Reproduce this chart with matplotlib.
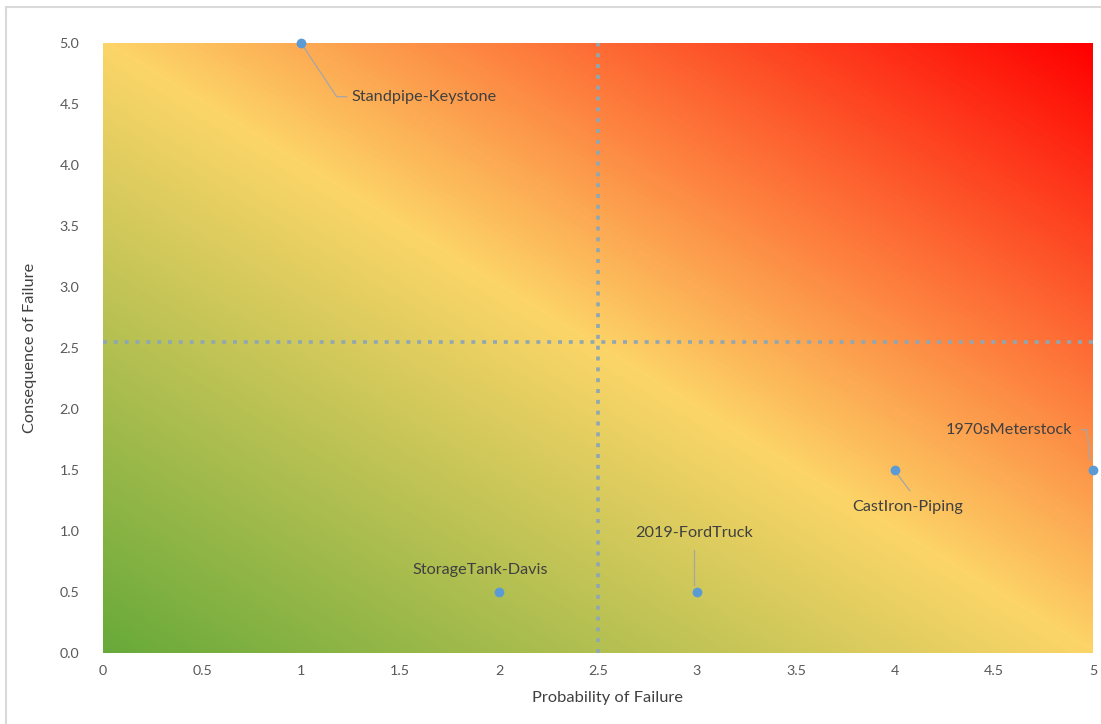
import numpy as np
import matplotlib.pyplot as plt
from matplotlib.colors import LinearSegmentedColormap
from matplotlib.lines import Line2D

plt.rcParams['font.family'] = ['Lato', 'DejaVu Sans']

# asset risk scores
assets = ["Standpipe-Keystone", "StorageTank-Davis", "2019-FordTruck",
          "CastIron-Piping", "1970sMeterstock"]
probability = [1, 2, 3, 4, 5]
consequence = [5.0, 0.5, 0.5, 1.5, 1.5]

# label anchor spots and leader paths (data units)
label_xy = [(1.255, 4.56), (1.905, 0.68), (2.985, 0.98), (4.066, 1.20), (4.575, 1.83)]
label_ha = ["left", "center", "center", "center", "center"]
leaders = [
    [(1.0, 5.0), (1.18, 4.56), (1.23, 4.56)],
    None,
    [(2.985, 0.845), (2.985, 0.56)],
    [(4.01, 1.47), (4.075, 1.33)],
    [(4.94, 1.83), (4.97, 1.83), (4.985, 1.58)],
]

x_ticks = [0, 0.5, 1, 1.5, 2, 2.5, 3, 3.5, 4, 4.5, 5]
x_tick_labels = ["0", "0.5", "1", "1.5", "2", "2.5", "3", "3.5", "4", "4.5", "5"]
y_ticks = [0.0, 0.5, 1.0, 1.5, 2.0, 2.5, 3.0, 3.5, 4.0, 4.5, 5.0]

prob_split = 2.5
cons_split = 2.55

fig = plt.figure(figsize=(11.01, 7.24), dpi=100)
ax = fig.add_axes([0.0936, 0.0981, 0.8991, 0.8425])

# diagonal heat background: green -> yellow -> red
cmap = LinearSegmentedColormap.from_list(
    "risk", [(0.0, "#68aa3a"), (0.5, "#fcd568"), (1.0, "#ff0000")])
n = 400
gx, gy = np.meshgrid(np.linspace(0, 1, n), np.linspace(0, 1, n))
ax.imshow((gx + gy) / 2, cmap=cmap, extent=[0, 5, 0, 5], origin="lower",
          aspect="auto", zorder=0, interpolation="bilinear")

ax.axvline(prob_split, color="#8fa7b3", lw=2.6, ls=(0, (1.1, 1.9)), zorder=1)
ax.axhline(cons_split, color="#8fa7b3", lw=2.6, ls=(0, (1.1, 1.9)), zorder=1)

for pts in leaders:
    if pts is None:
        continue
    xs, ys = zip(*pts)
    ax.plot(xs, ys, color="#a6a6a6", lw=0.9, zorder=2, clip_on=False)

ax.plot(probability, consequence, "o", color="#5b9bd5", markersize=6,
        zorder=3, clip_on=False)

for name, (lx, ly), ha in zip(assets, label_xy, label_ha):
    ax.text(lx, ly, name, ha=ha, va="center", fontsize=11.7, color="#404040",
            zorder=4)

ax.set_xlim(0, 5)
ax.set_ylim(0, 5)
ax.set_xticks(x_ticks)
ax.set_xticklabels(x_tick_labels)
ax.set_yticks(y_ticks)
ax.set_yticklabels([f"{v:.1f}" for v in y_ticks])
ax.tick_params(length=0, labelsize=10.3, labelcolor="#595959")
ax.tick_params(axis="y", pad=17)
ax.tick_params(axis="x", pad=9)
for s in ax.spines.values():
    s.set_visible(False)

ax.set_xlabel("Probability of Failure", fontsize=11.8, color="#404040", labelpad=8)
ax.xaxis.set_label_coords(0.51, -0.062)
ax.set_ylabel("Consequence of Failure", fontsize=11.8, color="#404040", labelpad=16)

# chart frame
fig.add_artist(Line2D([6 / 1101, 1.0], [1 - 7 / 724, 1 - 7 / 724],
                      color="#d9d9d9", lw=1.5, transform=fig.transFigure))
fig.add_artist(Line2D([6 / 1101, 6 / 1101], [0.0, 1 - 7 / 724],
                      color="#d9d9d9", lw=1.5, transform=fig.transFigure))

fig.savefig("out.png", dpi=100)
